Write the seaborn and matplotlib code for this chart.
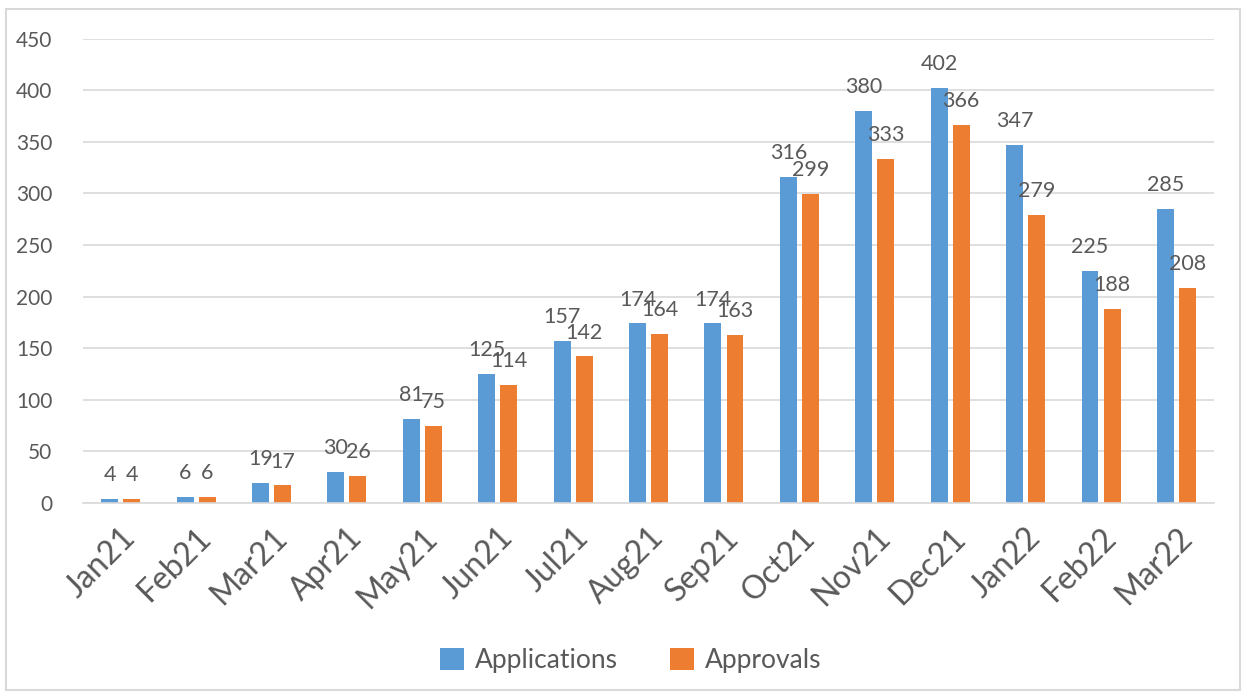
import matplotlib
matplotlib.use("Agg")
import matplotlib.pyplot as plt
import seaborn as sns
import pandas as pd
from matplotlib.patches import Rectangle, Patch

months = ["Jan21", "Feb21", "Mar21", "Apr21", "May21", "Jun21", "Jul21", "Aug21",
          "Sep21", "Oct21", "Nov21", "Dec21", "Jan22", "Feb22", "Mar22"]
applications = [4, 6, 19, 30, 81, 125, 157, 174, 174, 316, 380, 402, 347, 225, 285]
approvals = [4, 6, 17, 26, 75, 114, 142, 164, 163, 299, 333, 366, 279, 188, 208]
series_names = ["Applications", "Approvals"]
colors = ["#5B9BD5", "#ED7D31"]
yticks = list(range(0, 451, 50))

df = pd.DataFrame({
    "Month": months * 2,
    "Value": applications + approvals,
    "Series": [series_names[0]] * len(months) + [series_names[1]] * len(months),
})

sns.set_theme(style="white")
plt.rcParams["font.family"] = ["Lato", "DejaVu Sans"]
text_color = "#595959"
grid_color = "#D9D9D9"

fig = plt.figure(figsize=(12.44, 6.98), dpi=100)
ax = fig.add_axes([0.0667, 0.2794, 0.976 - 0.0667, 0.9448 - 0.2794])

sns.barplot(data=df, x="Month", y="Value", hue="Series", order=months,
            hue_order=series_names, palette=colors, width=0.584, gap=0.23,
            saturation=1, ax=ax, legend=False, linewidth=0)

ax.set_ylim(0, 450)
ax.set_xlim(-0.5, len(months) - 0.5)
ax.set_yticks(yticks)
ax.set_yticklabels([str(t) for t in yticks], fontsize=15, color=text_color)
ax.tick_params(axis="y", length=0, pad=22)
ax.tick_params(axis="x", length=0, pad=14)
ax.set_xticks(range(len(months)))
ax.set_xticklabels(months, rotation=45, ha="right", rotation_mode="anchor",
                   fontsize=23, color=text_color)
ax.set_xlabel("")
ax.set_ylabel("")
ax.yaxis.grid(True, color=grid_color, linewidth=1.2)
ax.set_axisbelow(True)
for s in ["top", "right", "left"]:
    ax.spines[s].set_visible(False)
ax.spines["bottom"].set_color(grid_color)
ax.spines["bottom"].set_linewidth(1.2)

for cont in ax.containers:
    ax.bar_label(cont, labels=[f"{int(v)}" for v in cont.datavalues],
                 padding=10, fontsize=15.5, color=text_color)

handles = [Patch(facecolor=c, edgecolor="none") for c in colors]
fig.legend(handles, series_names, loc="center", bbox_to_anchor=(0.507, 0.054),
           ncol=2, frameon=False, fontsize=19, labelcolor=text_color,
           handlelength=0.9, handleheight=0.9, handletextpad=0.4, columnspacing=2.0)

fig.patches.append(Rectangle((6 / 1244, 1 - 690 / 698), (1240 - 6) / 1244, (690 - 9) / 698,
                             transform=fig.transFigure, fill=False,
                             edgecolor=grid_color, linewidth=1.5))

fig.savefig("out.png", dpi=100)
